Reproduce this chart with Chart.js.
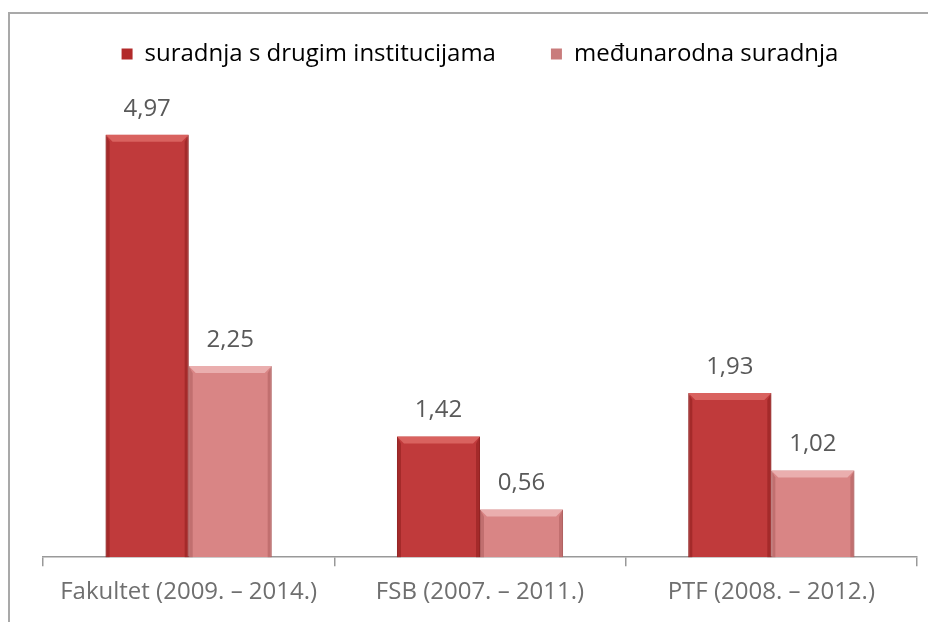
<!DOCTYPE html>
<html>
<head>
<meta charset="utf-8">
<script src="https://cdn.jsdelivr.net/npm/chart.js@4"></script>
<style>
	html, body { margin: 0; padding: 0; background: #fff; overflow: hidden; }
	#frame { position: absolute; left: 8px; top: 12px; width: 1000px; height: 1000px; border: 2px solid #a9a9a9; }
	#wrap { position: absolute; left: 0; top: 0; width: 928px; height: 622px; }
</style>
</head>
<body>
<div id="frame"></div>
<div id="wrap"><canvas id="barChart" width="928" height="622"></canvas></div>
<script>
const categories = ["Fakultet (2009. – 2014.)", "FSB (2007. – 2011.)", "PTF (2008. – 2012.)"];
const seriesNames = ["suradnja s drugim institucijama", "međunarodna suradnja"];
const drugeInstitucije = [4.97, 1.42, 1.93];
const medunarodna = [2.25, 0.56, 1.02];

const mainColors = ["#c03a3b", "#d98585"];
const topColors = ["#d9625f", "#eaaeae"];
const sideColors = ["rgba(140,30,30,0.55)", "rgba(170,90,90,0.5)"];
const legendColors = ["#b22a2a", "#c97c7c"];

const fmt = v => v.toFixed(2).replace(".", ",");

// bevel look + value labels
const barExtras = {
	id: "barExtras",
	afterDatasetsDraw(chart) {
		const ctx = chart.ctx;
		chart.data.datasets.forEach((ds, i) => {
			const meta = chart.getDatasetMeta(i);
			meta.data.forEach((bar, j) => {
				const l = bar.x - bar.width / 2, r = bar.x + bar.width / 2;
				const t = bar.y, b = bar.base;
				const bev = 7;
				ctx.save();
				ctx.fillStyle = topColors[i];
				ctx.beginPath();
				ctx.moveTo(l, t); ctx.lineTo(r, t);
				ctx.lineTo(r - bev, t + bev); ctx.lineTo(l + bev, t + bev);
				ctx.closePath(); ctx.fill();
				ctx.fillStyle = sideColors[i];
				ctx.beginPath();
				ctx.moveTo(l, t); ctx.lineTo(l + 4, t + bev); ctx.lineTo(l + 4, b); ctx.lineTo(l, b);
				ctx.closePath(); ctx.fill();
				ctx.beginPath();
				ctx.moveTo(r, t); ctx.lineTo(r - 4, t + bev); ctx.lineTo(r - 4, b); ctx.lineTo(r, b);
				ctx.closePath(); ctx.fill();
				ctx.fillStyle = "#595959";
				ctx.font = "24px 'Open Sans'";
				ctx.textAlign = "center";
				ctx.textBaseline = "middle";
				ctx.fillText(fmt(ds.data[j]), bar.x, t - 26);
				ctx.restore();
			});
		});
	}
};

const ctx = document.getElementById("barChart").getContext("2d");

const myChart = new Chart(ctx, {
	type: "bar",
	data: {
		labels: categories,
		datasets: [{
			label: seriesNames[0],
			data: drugeInstitucije,
			backgroundColor: mainColors[0],
			borderColor: "#9e2b2b",
			borderWidth: 1,
			categoryPercentage: 0.57,
			barPercentage: 1.0,
		}, {
			label: seriesNames[1],
			data: medunarodna,
			backgroundColor: mainColors[1],
			borderColor: "#b86a6a",
			borderWidth: 1,
			categoryPercentage: 0.57,
			barPercentage: 1.0,
		}],
	},
	options: {
		responsive: false,
		animation: false,
		// legend padding is big for the gap between items, so pull it up
		layout: { padding: { left: 43, right: 11, top: -13, bottom: 3 } },
		plugins: {
			tooltip: { enabled: false },
			legend: {
				position: "top",
				labels: {
					color: "#595959",
					font: { family: "'Open Sans'", size: 24 },
					boxWidth: 11,
					boxHeight: 11,
					padding: 55,
					generateLabels: chart => chart.data.datasets.map((ds, i) => ({
						text: ds.label,
						fillStyle: legendColors[i],
						strokeStyle: legendColors[i],
						lineWidth: 0,
						datasetIndex: i,
					})),
				},
			},
		},
		scales: {
			x: {
				grid: { offset: true, drawOnChartArea: false, tickLength: 9, color: "#999", lineWidth: 1.5 },
				border: { display: true, color: "#999", width: 1.5 },
				ticks: { color: "#6f6f6f", font: { family: "'Open Sans'", size: 24 }, padding: 12 },
			},
			y: {
				display: false,
				min: 0,
				max: 5.66,
			},
		},
	},
	plugins: [barExtras],
});
</script>
</body>
</html>
